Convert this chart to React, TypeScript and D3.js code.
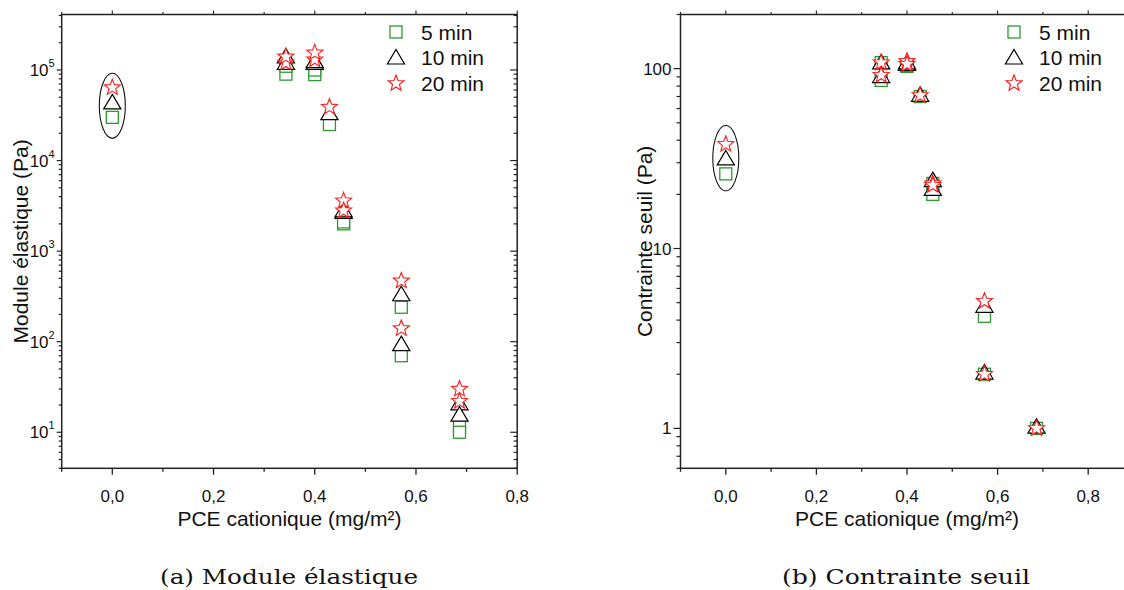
import React from "react";
import * as d3 from "d3";

// ---------- data ----------
const seriesNames = ["5 min", "10 min", "20 min"];
const xTickValues = [0, 0.2, 0.4, 0.6, 0.8];
const xTickLabels = ["0,0", "0,2", "0,4", "0,6", "0,8"];
const moduleTickExponents = [1, 2, 3, 4, 5];
const seuilTickValues = [1, 10, 100];
const seuilTickLabels = ["1", "10", "100"];

// (a) Module élastique (Pa)
const xModule = [0, 0.343, 0.343, 0.4, 0.4, 0.429, 0.457, 0.457, 0.571, 0.571, 0.686, 0.686];
const module5 = [3.0e4, 9.0e4, 1.1e5, 8.9e4, 1.0e5, 2.5e4, 2.0e3, 2.1e3, 240, 70, 11.5, 10];
const module10 = [4.2e4, 1.15e5, 1.35e5, 1.15e5, 1.2e5, 3.2e4, 2.6e3, 2.7e3, 320, 90, 20, 15];
const module20 = [6.4e4, 1.2e5, 1.4e5, 1.3e5, 1.55e5, 3.9e4, 3.6e3, 2.8e3, 470, 140, 30, 22];
const moduleEllipse = [0, 9.2e4, 1.76e4]; // x, top value, bottom value

// (b) Contrainte seuil (Pa)
const xSeuil = [0, 0.343, 0.343, 0.4, 0.4, 0.429, 0.457, 0.457, 0.571, 0.571, 0.686];
const seuil5 = [26, 108, 86, 103, 104, 70, 23, 20, 4.2, 2.0, 1.0];
const seuil10 = [31, 106, 89, 104, 106, 70, 23.5, 21, 4.7, 2.0, 1.0];
const seuil20 = [38, 108, 92, 110, 106, 71, 23, 22.5, 5.1, 2.0, 1.0];
const seuilEllipse = [0, 48.3, 20.9];

// ---------- styles ----------
const SANS = "'Liberation Sans', Arial, sans-serif";
const SERIF = "'DejaVu Serif', serif";
const GREEN = "#2e9a2e";
const RED = "#ff1a1a";
const AXIS = "#222";

function starPath(R: number, r: number) {
  const pts: string[] = [];
  for (let i = 0; i < 10; i++) {
    const a = -Math.PI / 2 + (i * Math.PI) / 5;
    const rad = i % 2 === 0 ? R : r;
    pts.push(`${(rad * Math.cos(a)).toFixed(2)},${(rad * Math.sin(a)).toFixed(2)}`);
  }
  return "M" + pts.join("L") + "Z";
}
const STAR = starPath(8.4, 3.6);
const TRI = "M0,-9.7L8.6,4.8L-8.6,4.8Z";

function Marker({ kind, cx, cy }: { kind: number; cx: number; cy: number }) {
  if (kind === 0)
    return <rect x={cx - 6} y={cy - 6} width={12} height={12} fill="white" stroke={GREEN} strokeWidth={1.3} />;
  if (kind === 1)
    return <path d={TRI} transform={`translate(${cx},${cy})`} fill="white" stroke="#000" strokeWidth={1.2} />;
  return <path d={STAR} transform={`translate(${cx},${cy})`} fill="white" stroke={RED} strokeWidth={1.1} />;
}

type PanelProps = {
  left: number;
  right: number;
  top: number;
  bottom: number;
  xDomain: [number, number];
  yDomain: [number, number];
  xs: number[];
  series: number[][];
  ellipse: number[];
  yTitle: string;
  yTitleX: number;
  legendX: number;
  leftTick: [number, number];
  superscript: boolean;
};

function Panel(p: PanelProps) {
  const x = d3.scaleLinear().domain(p.xDomain).range([p.left, p.right]);
  const y = d3.scaleLog().domain(p.yDomain).range([p.bottom, p.top]);
  const xt = x.ticks(10);
  const yt = y.ticks();
  const isMajorX = (v: number) => Math.abs(Math.round(v * 10)) % 2 === 0;
  const isMajorY = (v: number) => Math.abs(Math.log10(v) - Math.round(Math.log10(v))) < 1e-9;
  const cx = (p.left + p.right) / 2;
  const cy = (p.top + p.bottom) / 2;
  const [ex, eTop, eBot] = p.ellipse;
  const eyTop = y(eTop);
  const eyBot = y(eBot);
  return (
    <g>
      {/* frame */}
      <rect x={p.left} y={p.top} width={p.right - p.left} height={p.bottom - p.top} fill="none" stroke={AXIS} strokeWidth={1.5} />
      {/* x ticks bottom & top */}
      {xt.map((v, i) => {
        const m = isMajorX(v);
        return (
          <g key={"xt" + i}>
            <line x1={x(v)} x2={x(v)} y1={p.bottom} y2={p.bottom + (m ? 6.5 : 3.5)} stroke={AXIS} strokeWidth={1.3} />
            <line x1={x(v)} x2={x(v)} y1={p.top} y2={p.top - (m ? 4 : 2.5)} stroke={AXIS} strokeWidth={1.1} />
          </g>
        );
      })}
      {xTickValues.map((v, i) => (
        <text key={"xl" + i} x={x(v)} y={p.bottom + 34} textAnchor="middle" fontFamily={SANS} fontSize={17} fill="#111">
          {xTickLabels[i]}
        </text>
      ))}
      {/* y ticks left & right */}
      {yt.map((v, i) => {
        const m = isMajorY(v);
        return (
          <g key={"yt" + i}>
            <line x1={p.left} x2={p.left - (m ? p.leftTick[0] : p.leftTick[1])} y1={y(v)} y2={y(v)} stroke={AXIS} strokeWidth={1.2} />
            <line x1={p.right} x2={p.right - (m ? 7 : 3.5)} y1={y(v)} y2={y(v)} stroke={AXIS} strokeWidth={1.2} />
          </g>
        );
      })}
      {p.superscript
        ? moduleTickExponents.map((e) => (
            <text key={"yl" + e} x={p.left - 7} y={y(Math.pow(10, e)) + 6} textAnchor="end" fontFamily={SANS} fontSize={17} fill="#111">
              10
              <tspan dy={-9} fontSize={11}>
                {e}
              </tspan>
            </text>
          ))
        : seuilTickValues.map((v, i) => (
            <text key={"yl" + i} x={p.left - 9} y={y(v) + 6} textAnchor="end" fontFamily={SANS} fontSize={17} fill="#111">
              {seuilTickLabels[i]}
            </text>
          ))}
      {/* axis titles */}
      <text x={cx} y={p.bottom + 58} textAnchor="middle" fontFamily={SANS} fontSize={21} fill="#111">
        PCE cationique (mg/m²)
      </text>
      <text
        transform={`translate(${p.yTitleX},${cy}) rotate(-90)`}
        textAnchor="middle"
        fontFamily={SANS}
        fontSize={21}
        fill="#111"
      >
        {p.yTitle}
      </text>
      {/* ellipse annotation */}
      <ellipse cx={x(ex)} cy={(eyTop + eyBot) / 2} rx={13} ry={(eyBot - eyTop) / 2} fill="none" stroke="#111" strokeWidth={1.1} />
      {/* data */}
      {p.series.map((vals, s) => (
        <g key={"s" + s}>
          {vals.map((v, i) => (
            <Marker key={i} kind={s} cx={x(p.xs[i])} cy={y(v)} />
          ))}
        </g>
      ))}
      {/* legend */}
      {seriesNames.map((name, s) => {
        const ry = 32 + s * 25.7;
        return (
          <g key={"lg" + s}>
            <Marker kind={s} cx={p.legendX} cy={ry + (s === 1 ? 1.5 : 0)} />
            <text x={p.legendX + 25} y={ry + 7.5} fontFamily={SANS} fontSize={21} fill="#111">
              {name}
            </text>
          </g>
        );
      })}
    </g>
  );
}

export default function App() {
  return (
    <div style={{ position: "absolute", left: 0, top: 0, width: 1124, height: 590, overflow: "hidden", background: "white" }}>
      <svg width={1124} height={590} style={{ display: "block" }}>
        <rect x={0} y={0} width={1124} height={590} fill="white" />
        <Panel
          left={61.7}
          right={517.2}
          top={14.5}
          bottom={468.3}
          xDomain={[-0.1, 0.8]}
          yDomain={[4, 4.1e5]}
          xs={xModule}
          series={[module5, module10, module20]}
          ellipse={moduleEllipse}
          yTitle="Module élastique (Pa)"
          yTitleX={28}
          legendX={396}
          leftTick={[5, 3]}
          superscript={true}
        />
        <Panel
          left={680.5}
          right={1133.5}
          top={14.5}
          bottom={468.3}
          xDomain={[-0.1, 0.9]}
          yDomain={[0.6, 200]}
          xs={xSeuil}
          series={[seuil5, seuil10, seuil20]}
          ellipse={seuilEllipse}
          yTitle="Contrainte seuil (Pa)"
          yTitleX={652}
          legendX={1014}
          leftTick={[7, 4]}
          superscript={false}
        />
        <text x={289} y={584} textAnchor="middle" fontFamily={SERIF} fontSize={21} textLength={258} lengthAdjust="spacingAndGlyphs" fill="#111">
          (a) Module élastique
        </text>
        <text x={906} y={584} textAnchor="middle" fontFamily={SERIF} fontSize={21} textLength={248} lengthAdjust="spacingAndGlyphs" fill="#111">
          (b) Contrainte seuil
        </text>
      </svg>
    </div>
  );
}
